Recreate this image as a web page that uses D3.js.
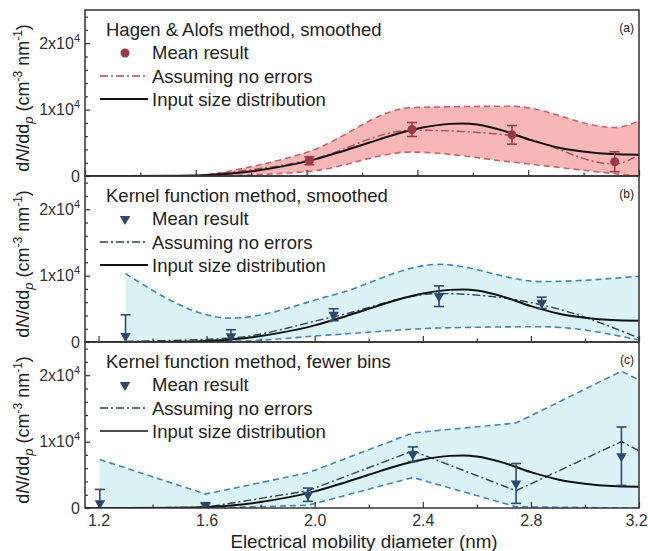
<!DOCTYPE html>
<html>
<head>
<meta charset="utf-8">
<script src="https://cdn.jsdelivr.net/npm/d3@7"></script>
<style>
  body { margin: 0; background: #fff; }
  text { font-family: "Liberation Sans", Arial, sans-serif; fill: #222; }
</style>
</head>
<body>
<div id="chart"></div>
<script>
// Input size distribution (same curve in every panel)
const inputD = [1.15, 1.3, 1.5, 1.6, 1.7, 1.8, 1.9, 2.0, 2.1, 2.2, 2.3, 2.4, 2.5, 2.55, 2.6, 2.7, 2.8, 2.9, 3.0, 3.1, 3.2];
const inputN = [0, 0, 50, 150, 400, 900, 1600, 2500, 3700, 5000, 6300, 7300, 7850, 7900, 7750, 6800, 5400, 4300, 3650, 3300, 3200];

// (a) Hagen & Alofs method, smoothed
const binsA = [1.60, 1.98, 2.36, 2.73, 3.11, 3.20];
const upperA = [100, 3700, 10300, 10500, 7300, 8300];
const lowerA = [0, 700, 3600, 2100, 350, 0];
const noErrA = [200, 2400, 6900, 6100, 1800, 3200];
const meanDA = [1.98, 2.36, 2.73, 3.11];
const meanA = [2300, 7000, 6200, 2150];
const errA = [600, 1050, 1400, 1500];

// (b) Kernel function method, smoothed
const binsB = [1.30, 1.69, 2.07, 2.46, 2.84, 3.20];
const upperB = [10300, 3600, 7100, 11700, 9100, 9900];
const lowerB = [0, 100, 1100, 2100, 2300, 300];
const noErrB = [100, 600, 3800, 7300, 5600, 600];
const meanDB = [1.30, 1.69, 2.07, 2.46, 2.84];
const meanB = [900, 850, 4100, 6900, 5900];
const errB = [3200, 1000, 900, 1550, 850];

// (c) Kernel function method, fewer bins
const binsC = [1.205, 1.596, 1.975, 2.363, 2.745, 3.135, 3.20];
const upperC = [7300, 2100, 5300, 11300, 12800, 20600, 19300];
const lowerC = [0, 0, 400, 4600, 200, 0, 0];
const noErrC = [0, 100, 2600, 8600, 2600, 10000, 8600];
const meanDC = [1.205, 1.596, 1.975, 2.363, 2.745, 3.135];
const meanC = [700, 350, 2000, 8100, 3700, 7800];
const errC = [2100, 450, 1000, 1100, 3000, 4400];

// Axis ticks
const xMajor = [1.2, 1.6, 2.0, 2.4, 2.8, 3.2];
const xMinor = [1.4, 1.8, 2.2, 2.6, 3.0];
const yMajor = [0, 10000, 20000];
const yMinor = [2000, 4000, 6000, 8000, 12000, 14000, 16000, 18000, 22000, 24000];

const width = 648;
const height = 551;
const margin = { left: 85, right: 9, top: 10 };
const w = width - margin.left - margin.right;
const ph = 166;

const panels = [
  { label: '(a)', title: 'Hagen & Alofs method, smoothed',
    bins: binsA, upper: upperA, lower: lowerA, noErr: noErrA, meanD: meanDA, mean: meanA, err: errA,
    curve: d3.curveMonotoneX, fill: '#f7b7b7', band: '#d0606c', dashDot: '#b04b5a',
    marker: '#9c3b47', symbol: 'circle', tickDomain: [1.2, 3.2] },
  { label: '(b)', title: 'Kernel function method, smoothed',
    bins: binsB, upper: upperB, lower: lowerB, noErr: noErrB, meanD: meanDB, mean: meanB, err: errB,
    curve: d3.curveMonotoneX, fill: '#dbf3f6', band: '#3f86bf', dashDot: '#2e405a',
    marker: '#2d4a6e', symbol: 'triangle', tickDomain: [1.15, 3.2] },
  { label: '(c)', title: 'Kernel function method, fewer bins',
    bins: binsC, upper: upperC, lower: lowerC, noErr: noErrC, meanD: meanDC, mean: meanC, err: errC,
    curve: d3.curveLinear, fill: '#dbf3f6', band: '#3f86bf', dashDot: '#2e405a',
    marker: '#2d4a6e', symbol: 'triangle', tickDomain: [1.15, 3.2] }
];

const x = d3.scaleLinear().domain([1.15, 3.2]).range([0, w]);
const y = d3.scaleLinear().domain([0, 25000]).range([ph, 0]);

const svg = d3.select('#chart').append('svg')
  .attr('width', width)
  .attr('height', height);

panels.forEach(function(p, i) {
  const g = svg.append('g')
    .attr('transform', 'translate(' + margin.left + ',' + (margin.top + i * ph) + ')');

  g.append('clipPath').attr('id', 'clip' + i)
    .append('rect').attr('width', w).attr('height', ph);
  const plot = g.append('g').attr('clip-path', 'url(#clip' + i + ')');

  const band = p.bins.map((d, k) => ({ d: d, lo: p.lower[k], hi: p.upper[k] }));

  // shaded range
  plot.append('path')
    .datum(band)
    .attr('d', d3.area().x(d => x(d.d)).y0(d => y(d.lo)).y1(d => y(d.hi)).curve(p.curve))
    .style('fill', p.fill);

  // dashed bounds
  [p.upper, p.lower].forEach(function(vals) {
    plot.append('path')
      .datum(p.bins.map((d, k) => [d, vals[k]]))
      .attr('d', d3.line().x(d => x(d[0])).y(d => y(d[1])).curve(p.curve))
      .style('fill', 'none')
      .style('stroke', p.band)
      .style('stroke-width', 1.6)
      .style('stroke-dasharray', '6,4');
  });

  // assuming no errors
  plot.append('path')
    .datum(p.bins.map((d, k) => [d, p.noErr[k]]))
    .attr('d', d3.line().x(d => x(d[0])).y(d => y(d[1])).curve(p.curve))
    .style('fill', 'none')
    .style('stroke', p.dashDot)
    .style('stroke-width', 1.4)
    .style('stroke-dasharray', '8,3,2,3');

  // input size distribution
  plot.append('path')
    .datum(inputD.map((d, k) => [d, inputN[k]]))
    .attr('d', d3.line().x(d => x(d[0])).y(d => y(d[1])).curve(d3.curveMonotoneX))
    .style('fill', 'none')
    .style('stroke', '#111')
    .style('stroke-width', 2);

  // mean results with error bars
  const pts = p.meanD.map((d, k) => ({ d: d, v: p.mean[k], e: p.err[k] }));
  const eb = plot.append('g').selectAll('g').data(pts).join('g')
    .style('stroke', p.marker)
    .style('stroke-width', 1.6);
  eb.append('line')
    .attr('x1', d => x(d.d)).attr('x2', d => x(d.d))
    .attr('y1', d => y(d.v - d.e)).attr('y2', d => y(d.v + d.e));
  [-1, 1].forEach(function(s) {
    eb.append('line')
      .attr('x1', d => x(d.d) - 5).attr('x2', d => x(d.d) + 5)
      .attr('y1', d => y(d.v + s * d.e)).attr('y2', d => y(d.v + s * d.e));
  });

  const sym = p.symbol === 'circle' ? d3.symbol(d3.symbolCircle, 64) : d3.symbol(d3.symbolTriangle, 48);
  const rot = p.symbol === 'circle' ? '' : ' rotate(180)';
  plot.append('g').selectAll('path').data(pts).join('path')
    .attr('d', sym)
    .attr('transform', d => 'translate(' + x(d.d) + ',' + y(d.v) + ')' + rot)
    .style('fill', p.marker);

  // axes: ticks point inward
  const xt = d3.scaleLinear().domain(p.tickDomain).range([0, w]);
  const xAxis = g.append('g')
    .attr('transform', 'translate(0,' + ph + ')')
    .call(d3.axisBottom(xt).tickValues(xMajor).tickSizeInner(-6).tickSizeOuter(0).tickPadding(7)
      .tickFormat(i === 2 ? d3.format('.1f') : ''));
  g.append('g')
    .attr('transform', 'translate(0,' + ph + ')')
    .call(d3.axisBottom(xt).tickValues(xMinor).tickSizeInner(-3.5).tickSizeOuter(0).tickFormat(''));

  const yAxis = g.append('g')
    .call(d3.axisLeft(y).tickValues(yMajor).tickSizeInner(-5).tickSizeOuter(0).tickPadding(5).tickFormat(''));
  g.append('g')
    .call(d3.axisLeft(y).tickValues(yMinor).tickSizeInner(-3).tickSizeOuter(0).tickFormat(''));

  g.selectAll('.domain').remove();
  g.selectAll('.tick line').style('stroke', '#333').style('stroke-width', 1.2);
  xAxis.selectAll('text').style('font-size', '16px').style('fill', '#333')
    .attr('dx', d => d === 3.2 ? -3 : 0);

  // y tick labels like 1x10^4
  yAxis.selectAll('.tick text')
    .style('font-size', '16px')
    .style('fill', '#333')
    .each(function(d) {
      const t = d3.select(this);
      if (d === 0) { t.text('0'); return; }
      t.append('tspan').text((d / 10000) + 'x10');
      t.append('tspan').attr('dy', -7).style('font-size', '11px').text('4');
    });

  // frame
  g.append('rect')
    .attr('width', w).attr('height', ph)
    .style('fill', 'none')
    .style('stroke', '#333')
    .style('stroke-width', 1.5);

  // y axis title
  const yt = g.append('text')
    .attr('transform', 'translate(-56,' + (ph / 2 + 5) + ') rotate(-90)')
    .attr('text-anchor', 'middle')
    .style('font-size', '18px');
  yt.append('tspan').text('d');
  yt.append('tspan').style('font-style', 'italic').text('N');
  yt.append('tspan').text('/dd');
  yt.append('tspan').attr('dy', 4).style('font-style', 'italic').style('font-size', '13px').text('p');
  yt.append('tspan').attr('dy', -4).text(' (cm');
  yt.append('tspan').attr('dy', -7).style('font-size', '12px').text('-3');
  yt.append('tspan').attr('dy', 7).text(' nm');
  yt.append('tspan').attr('dy', -7).style('font-size', '12px').text('-1');
  yt.append('tspan').attr('dy', 7).text(')');

  // panel label
  g.append('text')
    .attr('x', w - 5).attr('y', 22)
    .attr('text-anchor', 'end')
    .style('font-size', '12px')
    .text(p.label);

  // legend
  const lg = g.append('g');
  lg.append('text').attr('x', 21).attr('y', 26).style('font-size', '18.5px').text(p.title);
  lg.append('path')
    .attr('d', sym)
    .attr('transform', 'translate(40,43)' + rot)
    .style('fill', p.marker);
  lg.append('line')
    .attr('x1', 15).attr('x2', 63).attr('y1', 66).attr('y2', 66)
    .style('stroke', p.dashDot).style('stroke-width', 1.4).style('stroke-dasharray', '8,3,2,3');
  lg.append('line')
    .attr('x1', 15).attr('x2', 63).attr('y1', 89).attr('y2', 89)
    .style('stroke', '#111').style('stroke-width', i === 2 ? 1.4 : 2);
  ['Mean result', 'Assuming no errors', 'Input size distribution'].forEach(function(s, k) {
    lg.append('text')
      .attr('x', 67).attr('y', 49 + k * 23.5)
      .style('font-size', '18.5px')
      .text(s);
  });
});

// x axis title
svg.append('text')
  .attr('x', margin.left + w / 2 + 2)
  .attr('y', 548)
  .attr('text-anchor', 'middle')
  .style('font-size', '18.8px')
  .text('Electrical mobility diameter (nm)');
</script>
</body>
</html>
